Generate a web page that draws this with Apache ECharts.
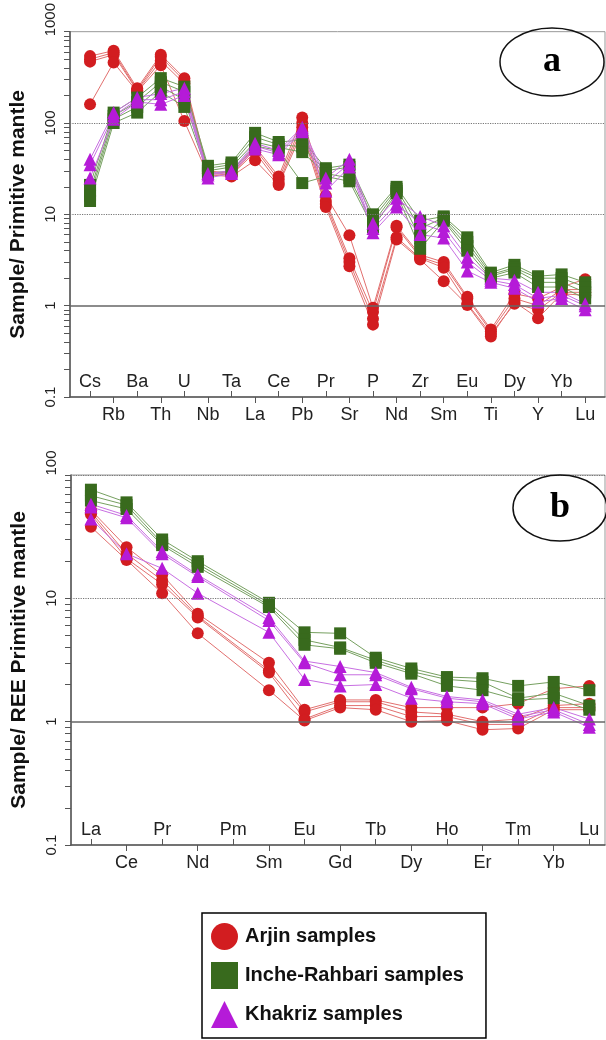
<!DOCTYPE html>
<html><head><meta charset="utf-8">
<script src="https://cdn.jsdelivr.net/npm/echarts@6/dist/echarts.min.js"></script>
<style>html,body{margin:0;padding:0;background:#fff}#c{width:606px;height:1040px}</style>
</head><body><div id="c"></div>
<script>
// ---------- data ----------
const elementsA = ['Cs','Rb','Ba','Th','U','Nb','Ta','La','Ce','Pb','Pr','Sr','P','Nd','Zr','Sm','Eu','Ti','Dy','Y','Yb','Lu'];
const elementsB = ['La','Ce','Pr','Nd','Pm','Sm','Eu','Gd','Tb','Dy','Ho','Er','Tm','Yb','Lu'];
const yTickLabelsA = [0.1, 1, 10, 100, 1000];
const yTickLabelsB = [0.1, 1, 10, 100];

// Panel a: Sample / Primitive mantle
const arjinA1 = [540,620,240,560,310,30,28,55,26,115,16,5.9,0.95,7.5,3.6,3.0,1.25,0.55,1.35,1.2,1.6,1.95];
const arjinA2 = [500,590,230,530,290,29,27,52,24,100,14,3.3,0.85,7.2,3.4,2.8,1.2,0.52,1.2,1.0,1.5,1.5];
const arjinA3 = [470,560,225,480,270,28,27,48,22,90,13,3.0,0.72,5.6,3.3,2.6,1.05,0.49,1.05,0.9,1.4,1.4];
const arjinA4 = [160,460,220,430,105,27,26,39,21,80,12,2.7,0.62,5.3,3.2,1.85,1.02,0.46,1.1,0.73,1.35,1.3];
const incheA1 = [21,130,190,310,250,34,37,78,62,65,32,35,10,20,8.5,9.5,5.6,2.3,2.8,2.1,2.2,1.8];
const incheA2 = [18,120,170,280,220,32,35,70,58,55,30,33,9,19,7,9.2,5.0,2.2,2.6,2.0,2.0,1.6];
const incheA3 = [16,110,150,250,180,30,33,62,54,48,28,25,8,18,5.5,8.8,4.5,2.1,2.5,1.8,1.8,1.4];
const incheA4 = [14,100,130,220,150,28,30,56,50,22,26,23,7.2,17,4.2,8.5,4.0,2.0,2.3,1.6,1.6,1.2];
const khakA1 = [40,130,190,210,240,28,30,60,50,90,25,40,8,15,9.5,7.5,3.4,2.0,1.9,1.4,1.4,1.05];
const khakA2 = [35,120,180,180,220,27,29,56,47,85,22,36,7,13,8,6.5,3.0,1.9,1.7,1.2,1.3,1.0];
const khakA3 = [25,110,170,160,200,25,28,52,45,80,18,33,6.3,12,6,5.5,2.4,1.8,1.55,1.1,1.2,0.9];

// Panel b: Sample / REE Primitive mantle (Pm not analysed)
const arjinB1 = [52,26,15.5,7.5,null,3.0,1.25,1.5,1.5,1.3,1.3,1.3,1.4,1.85,1.95];
const arjinB2 = [50,23,14,7.2,null,2.6,1.2,1.45,1.45,1.2,1.15,1.0,1.05,1.35,1.4];
const arjinB3 = [48,21,13,7.0,null,2.5,1.05,1.35,1.35,1.1,1.1,0.95,0.95,1.3,1.3];
const arjinB4 = [38,20.5,11,5.2,null,1.8,1.02,1.3,1.25,1.0,1.02,0.86,0.88,1.25,1.25];
const incheB1 = [76,60,30,20,null,9.2,5.3,5.2,3.3,2.7,2.3,2.25,1.95,2.1,1.8];
const incheB2 = [68,57,28,19,null,8.8,4.6,4.0,3.15,2.55,2.2,2.1,1.55,1.7,1.35];
const incheB3 = [62,53,27,18,null,8.5,4.2,3.9,3.0,2.45,1.95,1.8,1.5,1.55,1.25];
const khakB1 = [58,47,24,15.5,null,7.0,3.1,2.8,2.5,1.9,1.6,1.5,1.15,1.3,1.05];
const khakB2 = [55,45,23,15,null,6.6,3.0,2.4,2.4,1.85,1.55,1.45,1.1,1.25,0.95];
const khakB3 = [44,23,17.5,11,null,5.3,2.2,1.95,2.0,1.55,1.45,1.4,1.05,1.2,0.9];

// ---------- styling ----------
const FONT = '"Liberation Sans", Arial, sans-serif';
const GROUPS = {
  arjin: {name:'Arjin samples', symbol:'circle', size:12, color:'#d21d20', line:'#e2706f'},
  inche: {name:'Inche-Rahbari samples', symbol:'rect', size:12, color:'#386a1d', line:'#76a060'},
  khak:  {name:'Khakriz samples', symbol:'triangle', size:13, color:'#b51bd8', line:'#c86fe2'}
};

function makeSeries(group, values, xIdx, yIdx) {
  const g = GROUPS[group];
  const data = [];
  values.forEach((v, i) => { if (v !== null) data.push([i, v]); });
  return {
    type:'line', name:g.name, xAxisIndex:xIdx, yAxisIndex:yIdx, data,
    symbol:g.symbol, symbolSize:g.size, showSymbol:true,
    itemStyle:{color:g.color},
    lineStyle:{color:g.line, width:1},
    emphasis:{disabled:true}, animation:false, z:3
  };
}

function xAxes(gridIndex, cats, min, max) {
  const even = cats.map((c,i)=>i).filter(i=>i%2===0);
  const odd = cats.map((c,i)=>i).filter(i=>i%2===1);
  const lab = v => cats[Math.round(v)];
  const common = {type:'value', gridIndex, position:'bottom', min, max, splitLine:{show:false}};
  return [
    Object.assign({}, common, {
      axisLine:{show:true, onZero:false, lineStyle:{color:'#555', width:1.5}},
      axisTick:{show:true, inside:true, length:6, customValues:even, lineStyle:{color:'#555'}},
      axisLabel:{inside:true, customValues:even, formatter:lab, margin:6, fontSize:18, color:'#222', fontFamily:FONT}
    }),
    Object.assign({}, common, {
      axisLine:{show:false, onZero:false},
      axisTick:{show:true, inside:false, length:6, customValues:odd, lineStyle:{color:'#555'}},
      axisLabel:{inside:false, customValues:odd, formatter:lab, margin:9, fontSize:18, color:'#222', fontFamily:FONT}
    })
  ];
}

function yAxis(gridIndex, labels, title) {
  const max = labels[labels.length-1];
  const ticks = [];
  for (let d = 0; d < labels.length-1; d++) for (let k = 1; k <= 9; k++) ticks.push(k*labels[d]);
  ticks.push(max);
  return {
    type:'log', logBase:10, gridIndex, min:labels[0], max, position:'left',
    name:title, nameLocation:'middle', nameGap:41, nameRotate:90,
    nameTextStyle:{fontSize:21, fontWeight:'bold', color:'#111', fontFamily:FONT},
    axisLine:{show:true, onZero:false, lineStyle:{color:'#555', width:1.5}},
    axisTick:{show:true, length:6, customValues:ticks, lineStyle:{color:'#555'}},
    axisLabel:{customValues:labels, rotate:90, margin:12, fontSize:15, color:'#222', fontFamily:FONT,
      formatter: v => (Math.abs(v-max) < 1e-6 ? '{t|' + v + '}' : String(v)),
      rich:{t:{padding:[0,0,0,24], fontSize:15, color:'#222', fontFamily:FONT}}},
    splitLine:{show:false}
  };
}

function gridLines(xIdx, yIdx) {
  return {
    type:'line', xAxisIndex:xIdx, yAxisIndex:yIdx, data:[], silent:true, z:1, animation:false,
    markLine:{silent:true, symbol:'none', label:{show:false}, animation:false,
      data:[
        {yAxis:1, lineStyle:{type:'solid', color:'#666', width:1.6}},
        {yAxis:10, lineStyle:{type:'dotted', color:'#777', width:1.2}},
        {yAxis:100, lineStyle:{type:'dotted', color:'#777', width:1.2}}
      ]}
  };
}

const series = [
  gridLines(0, 0), gridLines(2, 1),
  ...[arjinA1,arjinA2,arjinA3,arjinA4].map(v=>makeSeries('arjin', v, 0, 0)),
  ...[incheA1,incheA2,incheA3,incheA4].map(v=>makeSeries('inche', v, 0, 0)),
  ...[khakA1,khakA2,khakA3].map(v=>makeSeries('khak', v, 0, 0)),
  ...[arjinB1,arjinB2,arjinB3,arjinB4].map(v=>makeSeries('arjin', v, 2, 1)),
  ...[incheB1,incheB2,incheB3].map(v=>makeSeries('inche', v, 2, 1)),
  ...[khakB1,khakB2,khakB3].map(v=>makeSeries('khak', v, 2, 1))
];

const option = {
  animation:false,
  backgroundColor:'#fff',
  grid:[
    {left:70, top:28, width:535, height:369, show:true, borderColor:'#999', borderWidth:1, backgroundColor:'transparent'},
    {left:71, top:475, width:534, height:370, show:true, borderColor:'#999', borderWidth:1, backgroundColor:'transparent'}
  ],
  xAxis:[...xAxes(0, elementsA, -0.85, 21.84), ...xAxes(1, elementsB, -0.56, 14.44)],
  yAxis:[yAxis(0, yTickLabelsA, 'Sample/ Primitive mantle'), yAxis(1, yTickLabelsB, 'Sample/ REE Primitive mantle')],
  legend:{
    orient:'vertical', left:202, top:913, selectedMode:false,
    borderColor:'#000', borderWidth:1.5, padding:[10,22,10,9], itemGap:12,
    itemWidth:27, itemHeight:27,
    textStyle:{fontSize:20, fontWeight:'bold', color:'#111', fontFamily:FONT, padding:[0,0,0,2]},
    data:[
      {name:'Arjin samples', icon:'circle'},
      {name:'Inche-Rahbari samples', icon:'rect'},
      {name:'Khakriz samples', icon:'triangle'}
    ]
  },
  graphic:[
    {type:'ellipse', shape:{cx:552, cy:62, rx:52, ry:34}, style:{fill:'transparent', stroke:'#111', lineWidth:1.5}, z:100},
    {type:'text', x:552, y:62, style:{text:'a', font:'bold 36px "Liberation Serif", "Times New Roman", serif', fill:'#000', align:'center', verticalAlign:'middle'}, z:101},
    {type:'ellipse', shape:{cx:560, cy:508, rx:47, ry:33}, style:{fill:'transparent', stroke:'#111', lineWidth:1.5}, z:100},
    {type:'text', x:560, y:508, style:{text:'b', font:'bold 36px "Liberation Serif", "Times New Roman", serif', fill:'#000', align:'center', verticalAlign:'middle'}, z:101}
  ],
  series
};

const chart = echarts.init(document.getElementById('c'), null, {renderer:'canvas'});
chart.setOption(option);
</script>
</body></html>
